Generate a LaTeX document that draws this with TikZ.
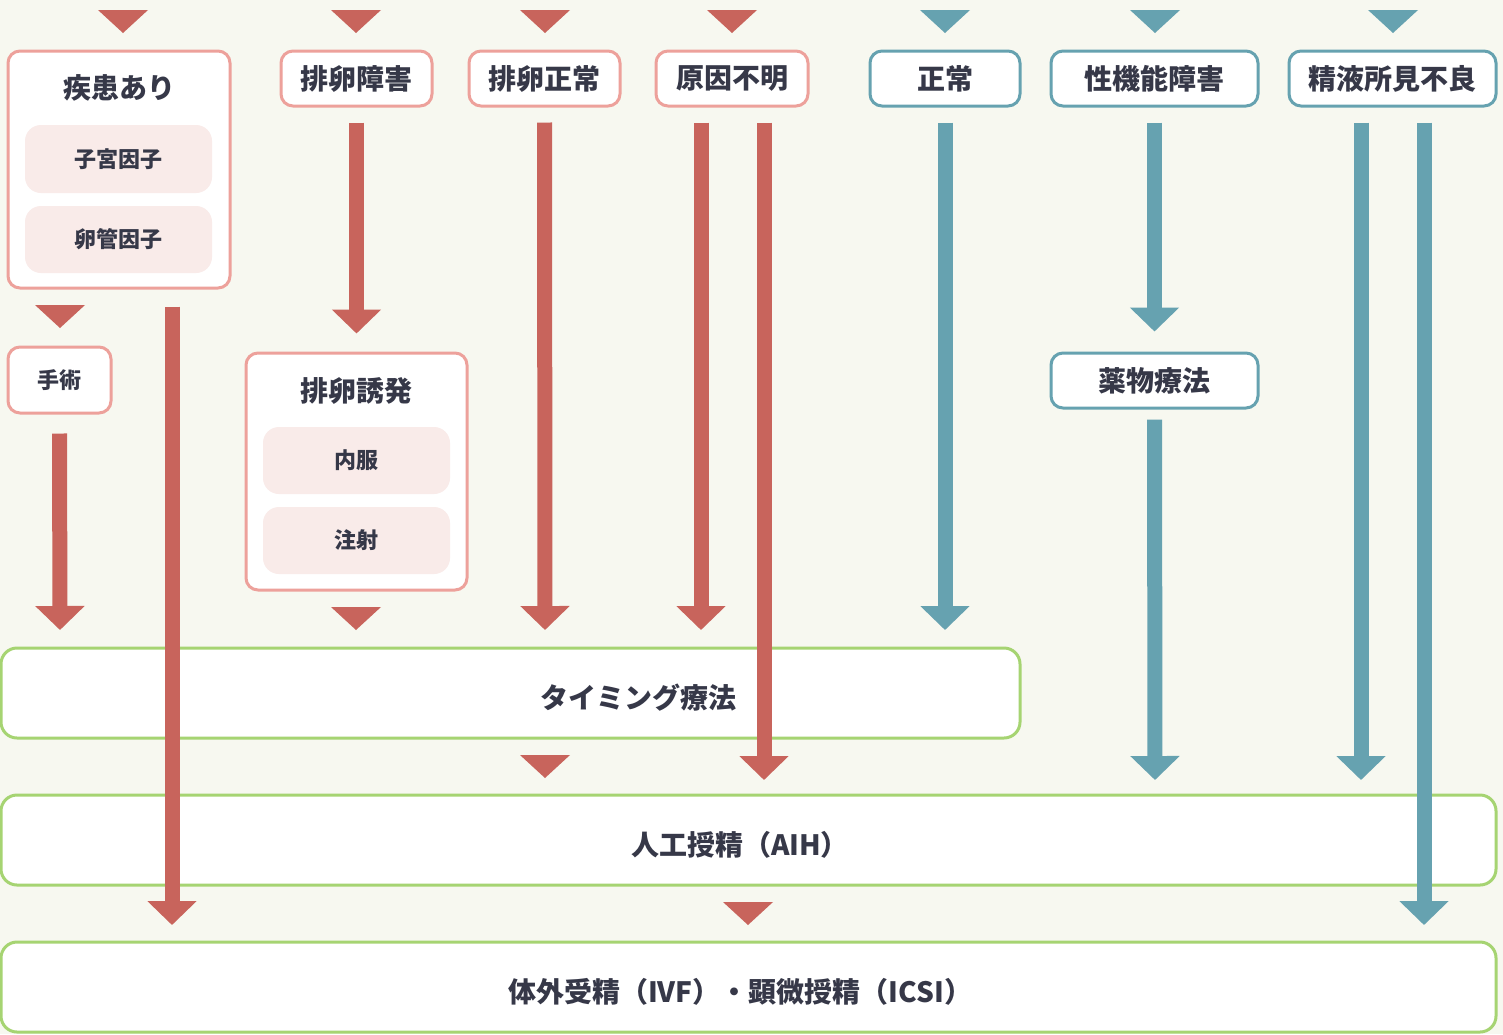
\documentclass[tikz,border=0pt]{standalone}
\usepackage{fontspec}
\setmainfont{Noto Sans CJK JP}
\usetikzlibrary{arrows.meta,fit}
\definecolor{bg}{HTML}{F7F8F0}
\definecolor{redc}{HTML}{C8645C}
\definecolor{tealc}{HTML}{66A2B0}
\definecolor{pinkb}{HTML}{EDA19B}
\definecolor{subf}{HTML}{F9EBE9}
\definecolor{greenb}{HTML}{A6D472}
\definecolor{txt}{HTML}{363848}
\begin{document}
\begin{tikzpicture}[x=0.5pt,y=-0.5pt,
  lbl/.style={text=txt,font=\fontsize{14}{16}\selectfont\bfseries,inner sep=0pt},
  slbl/.style={text=txt,font=\fontsize{11}{13}\selectfont\bfseries,inner sep=0pt},
  pbox/.style={draw=pinkb,line width=1.5pt,rounded corners=6pt,fill=white,inner sep=0pt},
  tbox/.style={pbox,draw=tealc},
  gbox/.style={draw=greenb,line width=1.5pt,rounded corners=8pt,fill=white,inner sep=0pt},
  sbox/.style={fill=subf,rounded corners=8pt,inner sep=0pt},
  rarr/.style={draw=redc,line width=7.5pt,-{Triangle[width=24pt,length=12pt]}},
  tarr/.style={rarr,draw=tealc},
  tri/.pic={\fill (-25,0) -- (25,0) -- (0,23) -- cycle;}
]
\useasboundingbox (0,0) rectangle (1503,1034);
\fill[bg] (0,0) rectangle (1503,1034);

% top triangles
\foreach \x in {123,356,545,732}{\pic[fill=redc] at (\x,10) {tri};}
\foreach \x in {945,1155,1393}{\pic[fill=tealc] at (\x,10) {tri};}

% top boxes
\node[pbox,fit={(8,51)(230,288)}] (b1) {};
\node[lbl] (b1t) at (119,88) {疾患あり};
\node[sbox,fit={(25,125)(212,193)}] (s1) {};
\node[slbl] (s1t) at (s1.center) {子宮因子};
\node[sbox,fit={(25,206)(212,273)}] (s2) {};
\node[slbl] (s2t) at (s2.center) {卵管因子};
\node[pbox,fit={(281,51)(432,106)}] (b2) {};
\node[lbl] (b2t) at (b2.center) {排卵障害};
\node[pbox,fit={(469,51)(620,106)}] (b3) {};
\node[lbl] (b3t) at (b3.center) {排卵正常};
\node[pbox,fit={(656,51)(808,106)}] (b4) {};
\node[lbl] (b4t) at (b4.center) {原因不明};
\node[tbox,fit={(870,51)(1020,106)}] (b5) {};
\node[lbl] (b5t) at (b5.center) {正常};
\node[tbox,fit={(1051,51)(1258,106)}] (b6) {};
\node[lbl] (b6t) at (b6.center) {性機能障害};
\node[tbox,fit={(1289,51)(1496,106)}] (b7) {};
\node[lbl] (b7t) at (b7.center) {精液所見不良};

% middle boxes
\pic[fill=redc] at (60,305) {tri};
\node[pbox,fit={(8,347)(111,413)}] (op) {};
\node[slbl] (opt) at (op.center) {手術};
\node[pbox,fit={(246,353)(467,590)}] (ind) {};
\node[lbl] (indt) at (356.5,391) {排卵誘発};
\node[sbox,fit={(263,427)(450,494)}] (s3) {};
\node[slbl] (s3t) at (s3.center) {内服};
\node[sbox,fit={(263,507)(450,574)}] (s4) {};
\node[slbl] (s4t) at (s4.center) {注射};
\pic[fill=redc] at (356,607) {tri};
\node[tbox,fit={(1051,353)(1258,408)}] (drug) {};
\node[lbl] (drugt) at (drug.center) {薬物療法};

% treatment boxes
\node[gbox,fit={(1,648)(1020,738)}] (tim) {};
\node[lbl] (timt) at (638,698) {タイミング療法};
\pic[fill=redc] at (545,755) {tri};
\node[gbox,fit={(1,795)(1496,885)}] (aih) {};
\node[lbl] (aiht) at (740,845) {人工授精（AIH）};
\pic[fill=redc] at (748,902) {tri};
\node[gbox,fit={(1,942)(1496,1032)}] (ivf) {};
\node[lbl] (ivft) at (740,992) {体外受精（IVF）・顕微授精（ICSI）};

% end coordinates
\coordinate (e1) at (60,630);
\coordinate (e2) at (172,925);
\coordinate (e3) at (545,630);
\coordinate (e4) at (701,630);
\coordinate (e5) at (764,780);
\coordinate (e6) at (945,630);
\coordinate (e7) at (1155,780);
\coordinate (e8) at (1361,780);
\coordinate (e9) at (1424,925);

% arrows
\draw[rarr] ([yshift=-9.5pt]op.south) -- (e1);
\draw[rarr] ([xshift=26.5pt,yshift=-8.5pt]b1.south) -- (e2);
\draw[rarr] ([yshift=-7.5pt]b2.south) -- ([yshift=9pt]ind.north);
\draw[rarr] ([yshift=-7.5pt]b3.south) -- (e3);
\draw[rarr] ([xshift=-15.5pt,yshift=-7.5pt]b4.south) -- (e4);
\draw[rarr] ([xshift=16pt,yshift=-7.5pt]b4.south) -- (e5);
\draw[tarr] ([yshift=-7.5pt]b5.south) -- (e6);
\draw[tarr] ([yshift=-7.5pt]b6.south) -- ([yshift=10pt]drug.north);
\draw[tarr] ([yshift=-5pt]drug.south) -- (e7);
\draw[tarr] ([xshift=-15.75pt,yshift=-7.5pt]b7.south) -- (e8);
\draw[tarr] ([xshift=15.75pt,yshift=-7.5pt]b7.south) -- (e9);
\end{tikzpicture}
\end{document}
